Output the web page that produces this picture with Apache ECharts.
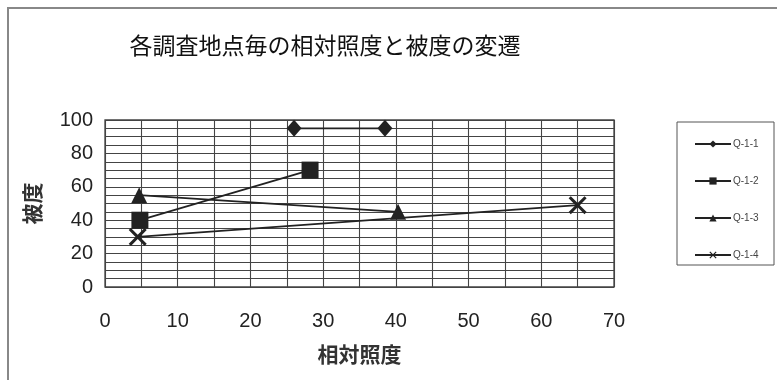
<!DOCTYPE html>
<html>
<head>
<meta charset="utf-8">
<script src="https://cdn.jsdelivr.net/npm/echarts@6/dist/echarts.min.js"></script>
<style>html,body{margin:0;padding:0;background:#fff;}#c{width:777px;height:380px;}</style>
</head>
<body>
<div id="c"></div>
<script>
const titleText = '各調査地点毎の相対照度と被度の変遷';
const xName = '相対照度';
const yName = '被度';
const seriesNames = ['Q-1-1', 'Q-1-2', 'Q-1-3', 'Q-1-4'];
const q11 = [[26, 95], [38.5, 95]];
const q12 = [[4.8, 40], [28.2, 70]];
const q13 = [[4.7, 55], [40.3, 45]];
const q14 = [[4.5, 30], [65, 49]];
const xMin = 0, xMax = 70, xStep = 10;
const yMin = 0, yMax = 100, yStep = 20;

const jp = '"Noto Sans CJK JP", sans-serif';
const num = '"Liberation Sans Narrow", "Liberation Sans", Arial, sans-serif';
const ink = '#222';
const grid = '#444';
const xSym = 'path://M0,1.2L1.2,0L5,3.8L8.8,0L10,1.2L6.2,5L10,8.8L8.8,10L5,6.2L1.2,10L0,8.8L3.8,5Z';

function mk(name, data, symbol, size) {
  return {
    name: name, type: 'line', data: data, symbol: symbol, symbolSize: size,
    lineStyle: { color: ink, width: 1.8 },
    itemStyle: { color: ink },
    emphasis: { disabled: true }, animation: false
  };
}

const chart = echarts.init(document.getElementById('c'), null, { renderer: 'canvas' });
chart.setOption({
  animation: false,
  backgroundColor: '#fff',
  title: {
    text: titleText, left: 320, top: 29, textAlign: 'center',
    textStyle: { fontFamily: jp, fontSize: 23, fontWeight: 'normal', color: '#111' }
  },
  grid: { left: 105, right: 163, top: 120, bottom: 93, show: true, borderColor: grid, borderWidth: 1.3 },
  xAxis: {
    type: 'value', min: xMin, max: xMax, interval: xStep,
    name: xName, nameLocation: 'middle', nameGap: 57,
    nameTextStyle: { fontFamily: jp, fontSize: 21, color: '#333', fontWeight: 'bold' },
    axisLine: { show: false }, axisTick: { show: false },
    axisLabel: { fontFamily: num, fontSize: 20, color: '#222', margin: 24 },
    splitLine: { show: true, lineStyle: { color: grid, width: 1.1 } },
    minorTick: { show: false, splitNumber: 2 },
    minorSplitLine: { show: true, lineStyle: { color: grid, width: 1.1 } }
  },
  yAxis: {
    type: 'value', min: yMin, max: yMax, interval: yStep,
    name: yName, nameLocation: 'middle', nameGap: 62, nameRotate: 90,
    nameTextStyle: { fontFamily: jp, fontSize: 21, color: '#333', fontWeight: 'bold' },
    axisLine: { show: false }, axisTick: { show: false },
    axisLabel: { fontFamily: num, fontSize: 20, color: '#222', margin: 12 },
    splitLine: { show: true, lineStyle: { color: grid, width: 1.1 } },
    minorTick: { show: false, splitNumber: 4 },
    minorSplitLine: { show: true, lineStyle: { color: grid, width: 1.1 } }
  },
  legend: {
    orient: 'vertical', left: 689, top: 134, itemGap: 27,
    itemWidth: 36, itemHeight: 9,
    data: seriesNames,
    textStyle: { fontFamily: num, fontSize: 10, color: '#444', padding: [0, 0, 0, -3] },
    selectedMode: false
  },
  graphic: [
    { type: 'rect', shape: { x: 8, y: 8, width: 790, height: 400 }, style: { fill: 'none', stroke: '#888', lineWidth: 2 }, silent: true },
    { type: 'rect', shape: { x: 677, y: 122, width: 97, height: 143 }, style: { fill: 'none', stroke: '#555', lineWidth: 1 }, silent: true }
  ],
  series: [
    mk(seriesNames[0], q11, 'diamond', [15, 17]),
    mk(seriesNames[1], q12, 'rect', 17),
    mk(seriesNames[2], q13, 'triangle', 16),
    mk(seriesNames[3], q14, xSym, 18)
  ]
});
</script>
</body>
</html>
